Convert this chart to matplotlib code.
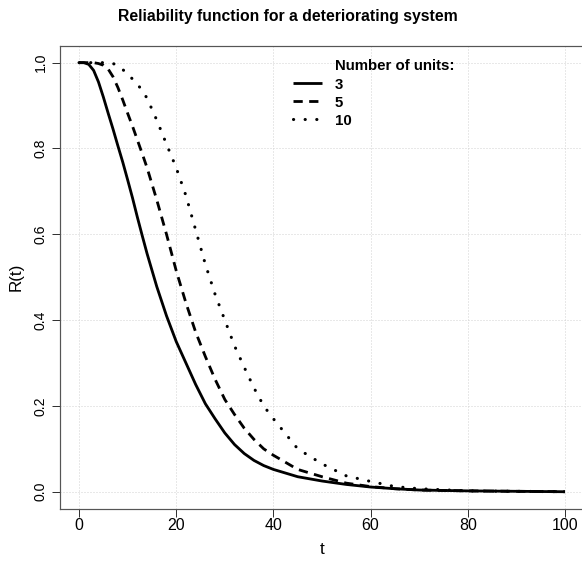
import matplotlib
matplotlib.use('Agg')
import matplotlib.pyplot as plt
from matplotlib.lines import Line2D

# значения
t = [0, 1, 2, 3, 4, 5, 6, 7, 8, 9, 10, 11, 12, 13, 14, 16, 18, 20, 22, 24, 26, 28,
     30, 32, 34, 36, 38, 40, 45, 50, 55, 60, 65, 70, 80, 90, 100]
r_3 = [1.0, 1.0, 0.996, 0.982, 0.955, 0.92, 0.882, 0.845, 0.806, 0.768, 0.727,
       0.685, 0.64, 0.597, 0.555, 0.478, 0.41, 0.35, 0.30, 0.25, 0.205, 0.17, 0.137,
       0.11, 0.089, 0.073, 0.061, 0.052, 0.035, 0.025, 0.017, 0.011, 0.007, 0.004,
       0.002, 0.001, 0.0]
r_5 = [1.0, 1.0, 1.0, 1.0, 0.998, 0.994, 0.985, 0.967, 0.942, 0.913, 0.882, 0.852,
       0.82, 0.788, 0.755, 0.68, 0.6, 0.515, 0.44, 0.372, 0.315, 0.262, 0.215, 0.18,
       0.148, 0.122, 0.1, 0.085, 0.052, 0.035, 0.02, 0.012, 0.007, 0.004, 0.002,
       0.001, 0.0]
r_10 = [1.0, 1.0, 1.0, 1.0, 1.0, 1.0, 1.0, 0.998, 0.993, 0.984, 0.973, 0.962, 0.95,
        0.935, 0.917, 0.866, 0.81, 0.755, 0.69, 0.61, 0.53, 0.46, 0.4, 0.34, 0.29,
        0.242, 0.2, 0.17, 0.1, 0.065, 0.037, 0.024, 0.012, 0.007, 0.002, 0.001, 0.0]
x_ticks = [0, 20, 40, 60, 80, 100]
y_ticks = [0.0, 0.2, 0.4, 0.6, 0.8, 1.0]
units = ['3', '5', '10']

plt.rcParams['font.family'] = ['Liberation Sans', 'DejaVu Sans']

fig = plt.figure(figsize=(582 / 72, 564 / 72), dpi=72)
ax = fig.add_axes([59.6 / 582, 55.1 / 564, 524.8 / 582, 463.4 / 564])

ax.grid(True, color='#d3d3d3', linestyle=(0, (1, 2)), linewidth=1)
ax.set_axisbelow(True)

lw = 2.8
l3, = ax.plot(t, r_3, color='black', lw=lw, solid_capstyle='butt')
l5, = ax.plot(t, r_5, color='black', lw=lw, linestyle=(0, (3.3, 2.3)),
              dash_capstyle='butt')
l10, = ax.plot(t, r_10, color='black', lw=lw + 0.3, linestyle=(0, (0.05, 3.7)),
               dash_capstyle='round')

ax.set_xlim(-4, 104)
ax.set_ylim(-0.04, 1.04)
ax.set_xticks(x_ticks)
ax.set_xticklabels([str(v) for v in x_ticks])
ax.set_yticks(y_ticks)
ax.set_yticklabels([f'{v:.1f}' for v in y_ticks], rotation=90, va='center')
ax.tick_params(direction='out', length=8, width=1, colors='#333333',
               labelcolor='black')
ax.tick_params(axis='x', pad=1, labelsize=16)
ax.tick_params(axis='y', pad=4, labelsize=14)
for s in ax.spines.values():
    s.set_color('#555555')
    s.set_linewidth(1.2)

ax.set_xlabel('t', fontsize=17, labelpad=9)
ax.set_ylabel('R(t)', fontsize=17, labelpad=10)

fig.text(288 / 582, 1 - 16 / 564, 'Reliability function for a deteriorating system',
         ha='center', va='center', fontsize=15.7, fontweight='bold')

# легенда: заголовок как первая строка без маркера
blank = Line2D([], [], linestyle='none')
ax.legend([blank, l3, l5, l10], ['Number of units:'] + units,
          loc='upper left', bbox_to_anchor=(227 / 524.8, 1 - 8 / 463.4),
          frameon=False, prop={'weight': 'bold', 'size': 15},
          handlelength=1.95, handletextpad=0.85, labelspacing=0.27,
          borderaxespad=0)

plt.savefig('out.png', dpi=72)
